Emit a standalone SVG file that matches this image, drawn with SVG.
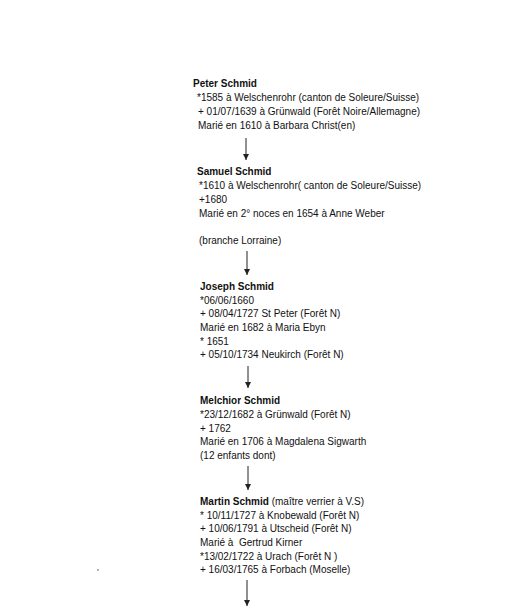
<svg xmlns="http://www.w3.org/2000/svg" width="510" height="610" viewBox="0 0 510 610">
<style>
text{font-family:"Liberation Sans",Arial,sans-serif;font-size:10px;fill:#111}
.n{font-weight:bold}
.c line{stroke:#222;stroke-width:1}
</style>
<defs>
<marker id="ah" viewBox="0 0 6 6" refX="6" refY="3" markerWidth="6" markerHeight="6" orient="auto" markerUnits="userSpaceOnUse">
<path d="M0,0 L6,3 L0,6 Z" fill="#222"/>
</marker>
</defs>
<rect width="510" height="610" fill="#fff"/>
<g id="peter">
<text class="n" x="193" y="87">Peter Schmid</text>
<text x="197" y="101">*1585 à Welschenrohr (canton de Soleure/Suisse)</text>
<text x="198" y="115">+ 01/07/1639 à Grünwald (Forêt Noire/Allemagne)</text>
<text x="198" y="129">Marié en 1610 à Barbara Christ(en)</text>
</g>
<g id="samuel">
<text class="n" x="197" y="175">Samuel Schmid</text>
<text x="199" y="189">*1610 à Welschenrohr( canton de Soleure/Suisse)</text>
<text x="199" y="203">+1680</text>
<text x="199" y="217">Marié en 2° noces en 1654 à Anne Weber</text>
<text x="199" y="244">(branche Lorraine)</text>
</g>
<g id="joseph">
<text class="n" x="200" y="290">Joseph Schmid</text>
<text x="200" y="304">*06/06/1660</text>
<text x="200" y="317">+ 08/04/1727 St Peter (Forêt N)</text>
<text x="200" y="331">Marié en 1682 à Maria Ebyn</text>
<text x="200" y="345">* 1651</text>
<text x="200" y="358">+ 05/10/1734 Neukirch (Forêt N)</text>
</g>
<g id="melchior">
<text class="n" x="200" y="404">Melchior Schmid</text>
<text x="200" y="418">*23/12/1682 à Grünwald (Forêt N)</text>
<text x="200" y="432">+ 1762</text>
<text x="200" y="445">Marié en 1706 à Magdalena Sigwarth</text>
<text x="200" y="459">(12 enfants dont)</text>
</g>
<g id="martin">
<text x="200" y="505"><tspan class="n">Martin Schmid</tspan> (maître verrier à V.S)</text>
<text x="200" y="519">* 10/11/1727 à Knobewald (Forêt N)</text>
<text x="200" y="532">+ 10/06/1791 à Utscheid (Forêt N)</text>
<text x="200" y="546">Marié à&#160; Gertrud Kirner</text>
<text x="200" y="560">*13/02/1722 à Urach (Forêt N )</text>
<text x="200" y="573">+ 16/03/1765 à Forbach (Moselle)</text>
</g>
<g id="connectors" class="c">
<line x1="246" y1="138" x2="246" y2="160" marker-end="url(#ah)"/>
<line x1="247" y1="251" x2="247" y2="275" marker-end="url(#ah)"/>
<line x1="248" y1="366" x2="248" y2="388" marker-end="url(#ah)"/>
<line x1="248" y1="466" x2="248" y2="490" marker-end="url(#ah)"/>
<line x1="247" y1="580" x2="247" y2="606" marker-end="url(#ah)"/>
</g>
<circle cx="98" cy="570" r="0.8" fill="#555"/>
</svg>
